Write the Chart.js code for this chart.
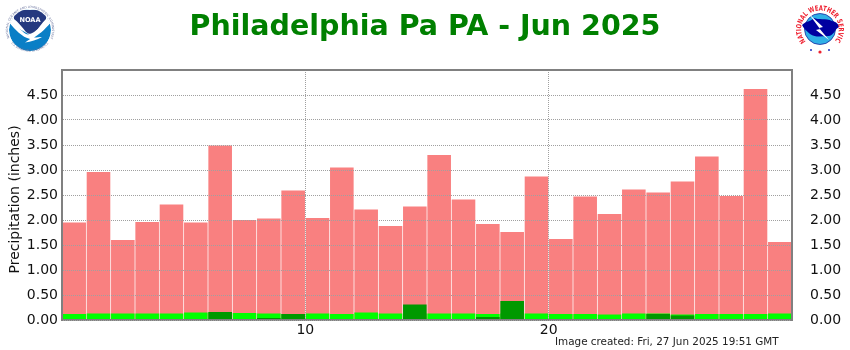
<!DOCTYPE html>
<html><head><meta charset="utf-8">
<script src="https://cdn.jsdelivr.net/npm/chart.js@4"></script>
<style>
html,body{margin:0;padding:0;background:#fff;width:850px;height:350px;overflow:hidden}
#wrap{position:relative;width:850px;height:350px}
canvas{position:absolute;left:0;top:0}
#stamp{position:absolute;left:555px;top:335px;font:10.4px "DejaVu Sans",sans-serif;color:#222;white-space:nowrap}
svg{position:absolute}
</style></head><body>
<div id="wrap">
<canvas id="c" width="850" height="350"></canvas>
<svg style="left:4px;top:4px" width="52" height="52" viewBox="0 0 52 52">
 <defs>
  <path id="noaaTop" d="M5.5 34 A22 22 0 1 1 46.5 34"/>
  <path id="noaaBot" d="M5 36 A24.5 24.5 0 0 0 47 36"/>
  <clipPath id="disc"><circle cx="26" cy="26" r="21"/></clipPath>
 </defs>
 <circle cx="26" cy="26" r="21" fill="#fff"/>
 <g clip-path="url(#disc)">
  <circle cx="26" cy="26" r="21" fill="#0a7fc6"/>
  <path d="M0 0 H52 V17 L47 19 L26 31 L5 19 L0 17Z" fill="#fff"/>
  <path d="M10 6 H42 V15 C38 19 34 25 30 29.5 C27 30.5 24 30 22 28 C18 23 14 18 10 15Z" fill="#25397f"/>
  <path d="M5 14 C12 20 17 27 22 30 C27 32 33 26 47 14 L47 18 C40 27 34 31 30 33.5 C33 33.5 36 33 38 33 C33 36 27 37.5 21 38.5 C23 37 25 36 26 35 C18 33 11 26 5 18Z" fill="#fff"/>
 </g>
 <text x="26" y="18" text-anchor="middle" font-family="DejaVu Sans" font-weight="bold" font-size="6.6" fill="#fff">NOAA</text>
 <text font-family="DejaVu Sans" font-size="3" fill="#67719c"><textPath href="#noaaTop" textLength="92" lengthAdjust="spacingAndGlyphs">NATIONAL OCEANIC AND ATMOSPHERIC ADMINISTRATION</textPath></text>
 <text font-family="DejaVu Sans" font-size="3" fill="#67719c"><textPath href="#noaaBot" startOffset="4" textLength="42" lengthAdjust="spacingAndGlyphs">U.S. DEPARTMENT OF COMMERCE</textPath></text>
</svg>
<svg style="left:796px;top:3px" width="48" height="52" viewBox="0 0 48 52">
 <defs><path id="nwsRing" d="M9.8 38.6 A18.8 18.8 0 1 1 38.2 38.6"/></defs>
 <circle cx="24" cy="26" r="15.5" fill="#2fb0e6" stroke="#1c2aa0" stroke-width="0.8"/>
 <path d="M6 22 C10 18 14 19 18 15 C22 17 30 15 36 18 C41 19 43 22 43 24 C39 26 38 32 33 33 C26 33 20 35 14 31 C11 28 8 26 6 22Z" fill="#0000a0"/>
 <path d="M13 11 L27 24 L23 25 L33 37 L20 27 L24 26Z" fill="#fff"/>
 <text font-family="DejaVu Sans" font-weight="bold" font-size="7.2" fill="#ee2030"><textPath href="#nwsRing" textLength="88" lengthAdjust="spacingAndGlyphs">NATIONAL WEATHER SERVICE</textPath></text>
 <circle cx="15" cy="47" r="1" fill="#2030c0"/><circle cx="33" cy="47" r="1" fill="#2030c0"/><circle cx="24" cy="49" r="1.6" fill="#ee2030"/>
</svg>
<div id="stamp">Image created: Fri, 27 Jun 2025 19:51 GMT</div>
</div>
<script>
const chartTitle = "Philadelphia Pa PA - Jun 2025";
const yAxisTitle = "Precipitation (inches)  ";
const days = [1,2,3,4,5,6,7,8,9,10,11,12,13,14,15,16,17,18,19,20,21,22,23,24,25,26,27,28,29,30];
const maxValues = [1.95,2.96,1.60,1.96,2.31,1.95,3.49,2.00,2.03,2.59,2.04,3.05,2.21,1.88,2.27,3.30,2.41,1.92,1.76,2.87,1.62,2.47,2.12,2.61,2.55,2.77,3.27,2.48,4.62,1.56];
const normalValues = [0.12,0.13,0.13,0.13,0.13,0.15,0.15,0.14,0.13,0.12,0.13,0.12,0.15,0.13,0.13,0.13,0.13,0.12,0.13,0.13,0.12,0.12,0.11,0.13,0.13,0.11,0.12,0.12,0.12,0.13];
const observedValues = [0,0,0,0,0,0,0.16,0,0.04,0.12,0,0,0,0.01,0.31,0.02,0,0.06,0.38,0,0,0,0,0,0.12,0.09,0,0,0,0];

const toPoints = a => a.map((v,i)=>({x:days[i]-0.5,y:v}));
const barBase = {grouped:false,barPercentage:1,categoryPercentage:0.97,borderWidth:0};
const axisColor = '#808080';
const gridCfg = {display:true,color:'#a0a0a0',lineWidth:1,z:1,tickLength:0,offset:false};
const borderCfg = {display:true,color:axisColor,width:2,dash:[1,1],z:1};
const tickFont = {family:'"DejaVu Sans",sans-serif',size:14};

new Chart(document.getElementById('c'),{
  type:'bar',
  data:{datasets:[
    {...barBase,label:'Observed',data:toPoints(observedValues),backgroundColor:'#009900',order:1},
    {...barBase,label:'Normal',data:toPoints(normalValues),backgroundColor:'#00ff00',order:2},
    {...barBase,label:'Maximum',data:toPoints(maxValues),backgroundColor:'#f98080',order:3}
  ]},
  options:{
    responsive:false,animation:false,
    layout:{padding:0},
    plugins:{
      legend:{display:false},tooltip:{enabled:false},
      title:{display:true,text:chartTitle,color:'#008000',
        font:{family:'"DejaVu Sans",sans-serif',size:28.5,weight:'bold'},
        padding:{top:10,bottom:25.8},align:'center'}
    },
    scales:{
      x:{type:'linear',min:0,max:30,offset:false,
        grid:{...gridCfg},
        border:{...borderCfg},
        ticks:{z:1,stepSize:10,font:tickFont,color:'#111',padding:2,maxRotation:0,
          callback:v=>(v===10||v===20)?String(v):''},
        afterFit:s=>{s.height=30}},
      y:{type:'linear',position:'left',min:0,max:5,
        grid:{...gridCfg},
        border:{...borderCfg},
        title:{display:true,text:yAxisTitle,color:'#111',font:tickFont,padding:{top:7,bottom:2}},
        ticks:{z:1,stepSize:0.5,font:tickFont,color:'#111',padding:4,
          callback:v=>v>=5?'':v.toFixed(2)},
        afterFit:s=>{s.width=62}},
      y2:{type:'linear',position:'right',min:0,max:5,
        grid:{display:false},
        border:{display:true,color:axisColor,width:2,z:1},
        ticks:{z:1,stepSize:0.5,font:tickFont,color:'#111',padding:10,
          callback:v=>v>=5?'':v.toFixed(2)},
        afterFit:s=>{s.width=58}}
    }
  },
  plugins:[{id:'topBorder',afterDraw(ch){const a=ch.chartArea,c=ch.ctx;c.save();c.strokeStyle=axisColor;c.lineWidth=2;c.beginPath();c.moveTo(a.left,a.top);c.lineTo(a.right,a.top);c.stroke();c.restore();}}]
});
</script>
</body></html>
